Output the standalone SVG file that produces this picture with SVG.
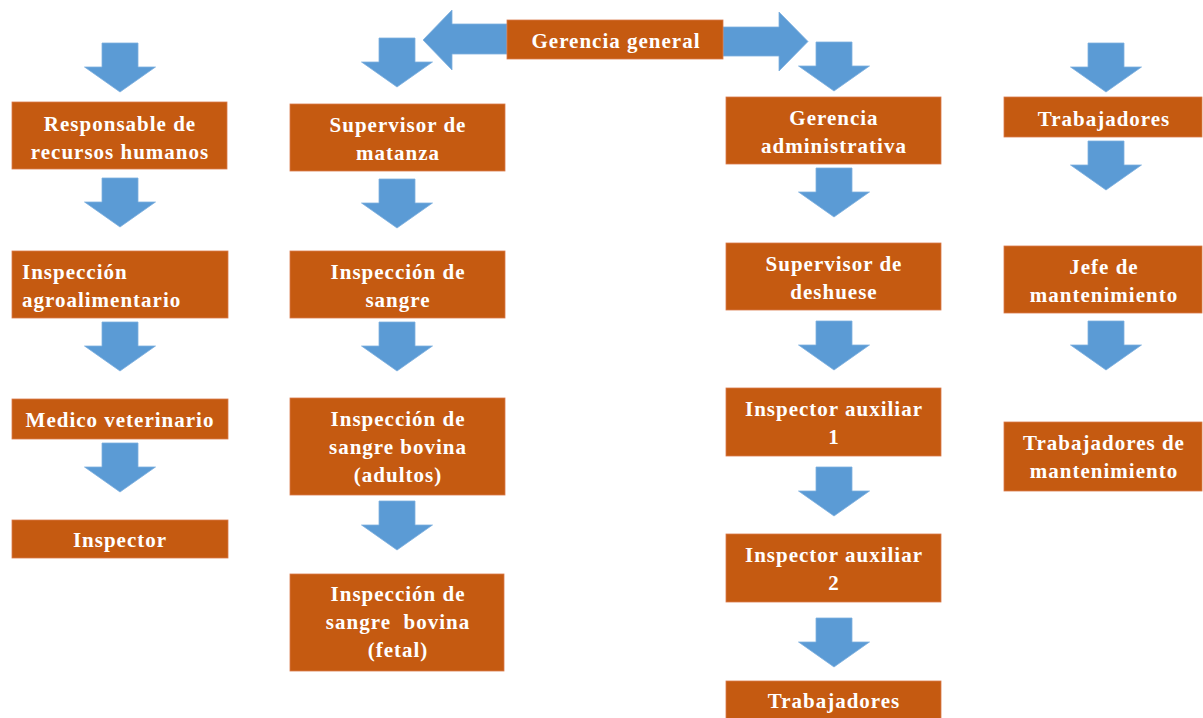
<svg xmlns="http://www.w3.org/2000/svg" width="1203" height="718" viewBox="0 0 1203 718">
<style>
.box{fill:#C55A11;stroke:#D9794A;stroke-width:0.8}
.arr{fill:#5B9BD5;stroke:#7FB0DE;stroke-width:0.8}
text{font-family:"Liberation Serif","Times New Roman",serif;font-weight:bold;font-size:21px;fill:#FFFFFF;letter-spacing:1px;text-anchor:middle;white-space:pre}
.l{text-anchor:start}
</style>
<defs>
<path id="down" d="M-18,0 H18 V24 H35.5 L0,49 L-35.5,24 H-18 Z"/>
</defs>
<rect width="1203" height="718" fill="#FFFFFF"/>
<g id="connectors">
<path class="arr" d="M507,24 H452 V10 L423,40 L452,70 V54 H507 Z"/>
<path class="arr" d="M723,27 H779 V12 L808,41.5 L779,71 V56 H723 Z"/>
<use href="#down" class="arr" transform="translate(120,43)"/>
<use href="#down" class="arr" transform="translate(120,178)"/>
<use href="#down" class="arr" transform="translate(120,322)"/>
<use href="#down" class="arr" transform="translate(120,443)"/>
<use href="#down" class="arr" transform="translate(397,38)"/>
<use href="#down" class="arr" transform="translate(397,179)"/>
<use href="#down" class="arr" transform="translate(397,322)"/>
<use href="#down" class="arr" transform="translate(397,501)"/>
<use href="#down" class="arr" transform="translate(834,42)"/>
<use href="#down" class="arr" transform="translate(834,168)"/>
<use href="#down" class="arr" transform="translate(834,321)"/>
<use href="#down" class="arr" transform="translate(834,467)"/>
<use href="#down" class="arr" transform="translate(834,618)"/>
<use href="#down" class="arr" transform="translate(1106,43)"/>
<use href="#down" class="arr" transform="translate(1106,141)"/>
<use href="#down" class="arr" transform="translate(1106,321)"/>
</g>
<g id="gerencia-general"><rect class="box" x="507" y="20" width="216" height="39"/><text x="616" y="48">Gerencia general</text></g>
<g id="responsable-rrhh"><rect class="box" x="12" y="102" width="215" height="67"/><text x="120" y="131">Responsable de</text><text x="120" y="159">recursos humanos</text></g>
<g id="inspeccion-agro"><rect class="box" x="12" y="251" width="216" height="67"/><text class="l" x="22" y="279">Inspección</text><text class="l" x="22" y="307">agroalimentario</text></g>
<g id="medico-veterinario"><rect class="box" x="12" y="399" width="216" height="40"/><text x="120" y="427">Medico veterinario</text></g>
<g id="inspector"><rect class="box" x="12" y="520" width="216" height="38"/><text x="120" y="547">Inspector</text></g>
<g id="supervisor-matanza"><rect class="box" x="290" y="104" width="215" height="67"/><text x="398" y="132">Supervisor de</text><text x="398" y="160">matanza</text></g>
<g id="inspeccion-sangre"><rect class="box" x="290" y="251" width="215" height="67"/><text x="398" y="279">Inspección de</text><text x="398" y="307">sangre</text></g>
<g id="inspeccion-adultos"><rect class="box" x="290" y="398" width="215" height="97"/><text x="398" y="426">Inspección de</text><text x="398" y="454">sangre bovina</text><text x="398" y="482">(adultos)</text></g>
<g id="inspeccion-fetal"><rect class="box" x="290" y="574" width="214" height="97"/><text x="398" y="601">Inspección de</text><text x="398" y="629">sangre  bovina</text><text x="398" y="657">(fetal)</text></g>
<g id="gerencia-administrativa"><rect class="box" x="726" y="97" width="215" height="67"/><text x="834" y="125">Gerencia</text><text x="834" y="153">administrativa</text></g>
<g id="supervisor-deshuese"><rect class="box" x="726" y="243" width="215" height="67"/><text x="834" y="271">Supervisor de</text><text x="834" y="299">deshuese</text></g>
<g id="inspector-aux-1"><rect class="box" x="726" y="388" width="215" height="68"/><text x="834" y="416">Inspector auxiliar</text><text x="834" y="444">1</text></g>
<g id="inspector-aux-2"><rect class="box" x="726" y="534" width="215" height="68"/><text x="834" y="562">Inspector auxiliar</text><text x="834" y="590">2</text></g>
<g id="trabajadores-1"><rect class="box" x="726" y="681" width="215" height="40"/><text x="834" y="708">Trabajadores</text></g>
<g id="trabajadores-2"><rect class="box" x="1004" y="97" width="198" height="40"/><text x="1104" y="126">Trabajadores</text></g>
<g id="jefe-mantenimiento"><rect class="box" x="1004" y="246" width="198" height="67"/><text x="1104" y="274">Jefe de</text><text x="1104" y="302">mantenimiento</text></g>
<g id="trabajadores-mantenimiento"><rect class="box" x="1004" y="422" width="198" height="69"/><text x="1104" y="450">Trabajadores de</text><text x="1104" y="478">mantenimiento</text></g>
</svg>
